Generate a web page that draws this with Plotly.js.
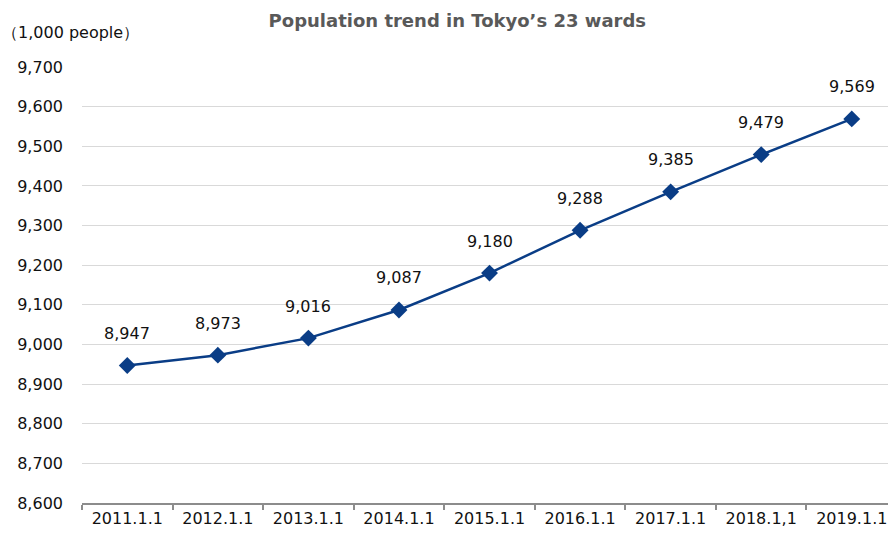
<!DOCTYPE html>
<html>
<head>
<meta charset="utf-8">
<script src="https://cdn.plot.ly/plotly-3.0.1.min.js"></script>
<style>html,body{margin:0;padding:0;background:#fff;}#chart{width:888px;height:538px;}</style>
</head>
<body>
<div id="chart"></div>
<script>
const categories = ["2011.1.1","2012.1.1","2013.1.1","2014.1.1","2015.1.1","2016.1.1","2017.1.1","2018.1,1","2019.1.1"];
const population = [8947, 8973, 9016, 9087, 9180, 9288, 9385, 9479, 9569];
const yTicks = [8600,8700,8800,8900,9000,9100,9200,9300,9400,9500,9600,9700];

const fmt = v => v.toLocaleString("en-US");
const font = "DejaVu Sans, sans-serif";

const trace = {
  x: categories,
  y: population,
  type: "scatter",
  mode: "lines+markers",
  line: {color: "#0a3d86", width: 2.5},
  marker: {symbol: "diamond", size: 13, color: "#0a3d86"},
  hoverinfo: "skip",
  cliponaxis: false
};

const labelAnns = categories.map((c, i) => ({
  x: c, y: population[i], xref: "x", yref: "y",
  text: fmt(population[i]), showarrow: false, yshift: 32,
  font: {family: font, size: 16, color: "#111"}
}));

const layout = {
  width: 888, height: 538,
  margin: {l: 82, r: 0, t: 67, b: 35},
  paper_bgcolor: "#fff", plot_bgcolor: "#fff",
  showlegend: false,
  title: {
    text: "Population trend in Tokyo’s 23 wards",
    font: {family: "DejaVu Sans, sans-serif", size: 18, color: "#595959", weight: "bold"},
    x: 0.515, xanchor: "center", y: 0.962, yanchor: "middle"
  },
  xaxis: {
    type: "category",
    range: [-0.5, 8.4],
    tickson: "boundaries",
    ticks: "outside", ticklen: 5, tickwidth: 2, tickcolor: "#8c8c8c",
    showline: true, linecolor: "#8c8c8c", linewidth: 2,
    showgrid: false, zeroline: false,
    tickfont: {family: font, size: 16, color: "#111"},
    fixedrange: true
  },
  yaxis: {
    range: [8600, 9700],
    tickvals: yTicks,
    ticktext: yTicks.map(fmt),
    showgrid: true, gridcolor: "#d9d9d9", gridwidth: 1,
    zeroline: false, showline: false, ticks: "",
    ticklabelstandoff: 18,
    tickfont: {family: font, size: 16, color: "#111"},
    fixedrange: true
  },
  annotations: labelAnns.concat([{
    xref: "paper", yref: "paper", x: -0.102, y: 1.08, xanchor: "left", yanchor: "middle",
    text: "（1,000 people）", showarrow: false,
    font: {family: font, size: 16, color: "#111"}
  }])
};

Plotly.newPlot("chart", [trace], layout, {displayModeBar: false, staticPlot: true});
</script>
</body>
</html>
